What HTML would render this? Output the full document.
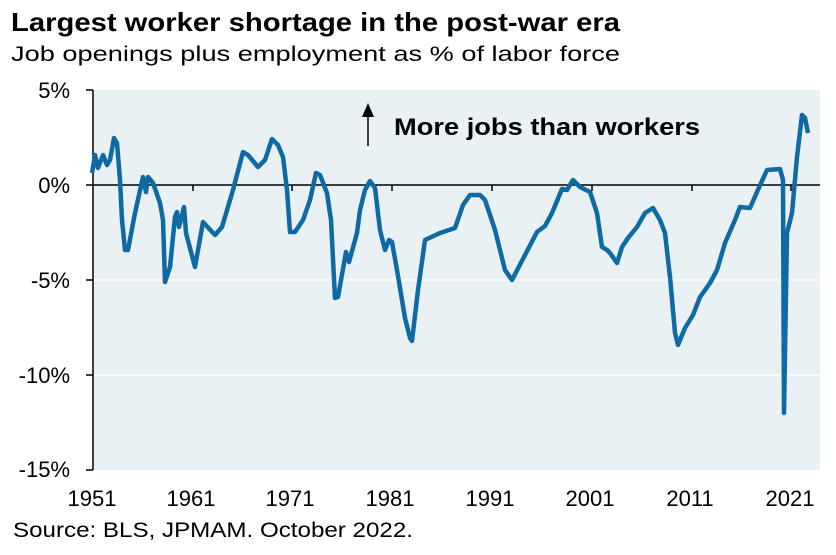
<!DOCTYPE html>
<html><head><meta charset="utf-8"><style>
body{margin:0;background:#fff;width:836px;height:550px;overflow:hidden;font-family:"Liberation Sans",Arial,sans-serif}
</style></head><body>
<svg width="836" height="550" xmlns="http://www.w3.org/2000/svg" font-family="Liberation Sans, Arial, sans-serif">
<text x="11" y="31" font-size="26" font-weight="bold" fill="#000" textLength="609" lengthAdjust="spacingAndGlyphs">Largest worker shortage in the post-war era</text>
<text x="11" y="61" font-size="21" fill="#000" textLength="609" lengthAdjust="spacingAndGlyphs">Job openings plus employment as % of labor force</text>
<rect x="93" y="90" width="727" height="380" fill="#e9f1f5"/>
<line x1="93" y1="280" x2="820" y2="280" stroke="#fff" stroke-width="1.5"/>
<line x1="93" y1="375" x2="820" y2="375" stroke="#fff" stroke-width="1.5"/>
<line x1="93" y1="185" x2="820" y2="185" stroke="#000" stroke-width="1.5"/>
<line x1="93" y1="90" x2="93" y2="470" stroke="#000" stroke-width="1.5"/>
<g stroke="#000" stroke-width="1.5">
<line x1="86" y1="90" x2="93" y2="90"/><line x1="86" y1="185" x2="93" y2="185"/><line x1="86" y1="280" x2="93" y2="280"/><line x1="86" y1="375" x2="93" y2="375"/><line x1="86" y1="470" x2="93" y2="470"/>
<line x1="193" y1="185" x2="193" y2="191"/><line x1="292" y1="185" x2="292" y2="191"/><line x1="392" y1="185" x2="392" y2="191"/><line x1="492" y1="185" x2="492" y2="191"/><line x1="592" y1="185" x2="592" y2="191"/><line x1="692" y1="185" x2="692" y2="191"/><line x1="791" y1="185" x2="791" y2="191"/>
</g>
<g font-size="22" fill="#000" text-anchor="end">
<text x="70" y="98">5%</text><text x="70" y="193">0%</text><text x="70" y="288">-5%</text><text x="70" y="383">-10%</text><text x="70" y="477">-15%</text>
</g>
<g font-size="22" fill="#000" text-anchor="middle">
<text x="92" y="506">1951</text><text x="191" y="506">1961</text><text x="290" y="506">1971</text><text x="390" y="506">1981</text><text x="490" y="506">1991</text><text x="590" y="506">2001</text><text x="690" y="506">2011</text><text x="790" y="506">2021</text>
</g>
<text x="13" y="537" font-size="21" fill="#000" textLength="400" lengthAdjust="spacingAndGlyphs">Source: BLS, JPMAM. October 2022.</text>
<line x1="368" y1="146" x2="368" y2="112" stroke="#000" stroke-width="1.5"/>
<polygon points="368,103 362,117 374,117" fill="#000"/>
<text x="394" y="135" font-size="24" font-weight="bold" fill="#000" textLength="306" lengthAdjust="spacingAndGlyphs">More jobs than workers</text>
<polyline fill="none" stroke="#0f6aa3" stroke-width="4.5" stroke-linejoin="round" points="92,173 95,155 98,168 103,155 107,165 110,160 114,138 117,143 120,180 122,220 125,250 128,250 135,213 143,177 146,192 148,177 153,183 160,203 163,220 165,282 170,267 175,217 177,212 179,227 184,207 186,233 195,267 203,222 215,235 222,227 233,190 243,152 248,155 258,167 265,160 272,139 278,145 283,157 287,190 290,232 295,232 303,220 310,200 316,173 320,175 327,193 331,220 335,298 338,297 346,252 349,262 357,233 360,210 365,190 370,181 375,188 380,230 385,250 389,240 392,242 397,270 405,318 410,338 412,341 418,290 425,240 440,233 455,228 463,205 470,195 480,195 485,200 495,230 505,270 512,280 525,255 537,232 545,226 552,213 562,189 567,190 573,180 580,187 590,192 597,213 602,247 607,250 610,253 617,263 622,247 628,238 637,227 645,213 653,208 660,220 665,233 670,277 675,333 678,345 685,328 693,315 700,297 710,283 717,270 725,243 735,220 740,207 750,208 757,192 767,170 780,169 783,180 784,413 787,233 792,213 797,157 802,115 805,118 808,133"/>
</svg>
</body></html>
